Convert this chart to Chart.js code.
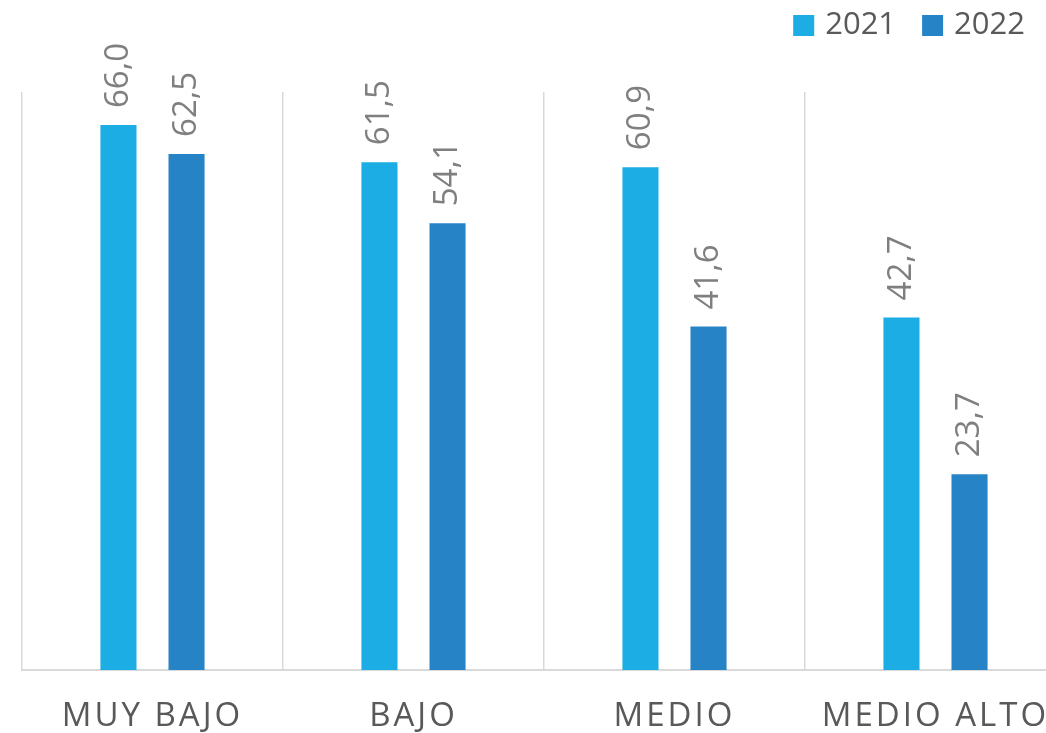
<!DOCTYPE html>
<html>
<head>
<meta charset="utf-8">
<script src="https://cdn.jsdelivr.net/npm/chart.js@4/dist/chart.umd.min.js"></script>
<style>
  html, body { margin: 0; padding: 0; background: #fff; overflow: hidden; }
  #wrap { position: relative; width: 1080px; height: 733px; }
</style>
</head>
<body>
<div id="wrap"><canvas id="chart"></canvas></div>
<script>
const categories = ['MUY BAJO', 'BAJO', 'MEDIO', 'MEDIO ALTO'];
const years = ['2021', '2022'];
const values2021 = [66.0, 61.5, 60.9, 42.7];
const values2022 = [62.5, 54.1, 41.6, 23.7];
const colors = ['#1CADE4', '#2683C6'];

const FONT = '"Open Sans", "DejaVu Sans", sans-serif';
const fmt = (v) => v.toFixed(1).replace('.', ',');

// rotated value labels above each bar + a legend in the top right corner
const labelsPlugin = {
  id: 'barLabels',
  beforeDraw(chart) {
    const s = chart.scales.x;
    if (!s._spaced) {
      const orig = s.drawLabels;
      s.drawLabels = function (area) {
        this.ctx.save();
        this.ctx.letterSpacing = '3px';
        orig.call(this, area);
        this.ctx.restore();
      };
      s._spaced = true;
    }
  },
  afterDatasetsDraw(chart) {
    const ctx = chart.ctx;
    ctx.save();
    ctx.font = '33px ' + FONT;
    ctx.fillStyle = '#7F7F7F';
    ctx.textAlign = 'left';
    ctx.textBaseline = 'middle';
    chart.data.datasets.forEach((ds, i) => {
      chart.getDatasetMeta(i).data.forEach((bar, j) => {
        ctx.save();
        ctx.translate(bar.x, bar.y - 17);
        ctx.rotate(-Math.PI / 2);
        ctx.fillText(fmt(ds.data[j]), 0, 0);
        ctx.restore();
      });
    });
    ctx.restore();
  },
  afterDraw(chart) {
    const ctx = chart.ctx;
    ctx.save();
    ctx.font = '31px ' + FONT;
    ctx.textBaseline = 'middle';
    ctx.textAlign = 'left';
    const box = 21, gapText = 11, gapItem = 26;
    const items = chart.data.datasets.map(ds => ({ label: ds.label, color: ds.backgroundColor, w: ctx.measureText(ds.label).width }));
    let total = items.reduce((a, it) => a + box + gapText + it.w, 0) + gapItem * (items.length - 1);
    let x = 1025 - total;
    items.forEach(it => {
      ctx.fillStyle = it.color;
      ctx.fillRect(x, 15, box, box);
      ctx.fillStyle = '#595959';
      ctx.fillText(it.label, x + box + gapText, 25);
      x += box + gapText + it.w + gapItem;
    });
    ctx.restore();
  }
};

new Chart(document.getElementById('chart'), {
  type: 'bar',
  data: {
    labels: categories,
    datasets: [
      { label: years[0], data: values2021, backgroundColor: colors[0] },
      { label: years[1], data: values2022, backgroundColor: colors[1] }
    ]
  },
  options: {
    responsive: true,
    maintainAspectRatio: false,
    animation: false,
    categoryPercentage: 0.5215,
    barPercentage: 0.53,
    layout: { padding: { left: 22, right: 14, top: 92, bottom: 0 } },
    plugins: { legend: { display: false }, tooltip: { enabled: false } },
    scales: {
      x: {
        afterFit(scale) { scale.height = 63; },
        grid: { color: '#D9D9D9', lineWidth: 1.5, drawTicks: false, offset: true },
        border: { color: '#D9D9D9', width: 2 },
        ticks: { color: '#595959', padding: 33, font: { family: FONT, size: 33, lineHeight: 0.8 } }
      },
      y: {
        display: false,
        min: 0,
        max: 70
      }
    }
  },
  plugins: [labelsPlugin]
});
</script>
</body>
</html>
